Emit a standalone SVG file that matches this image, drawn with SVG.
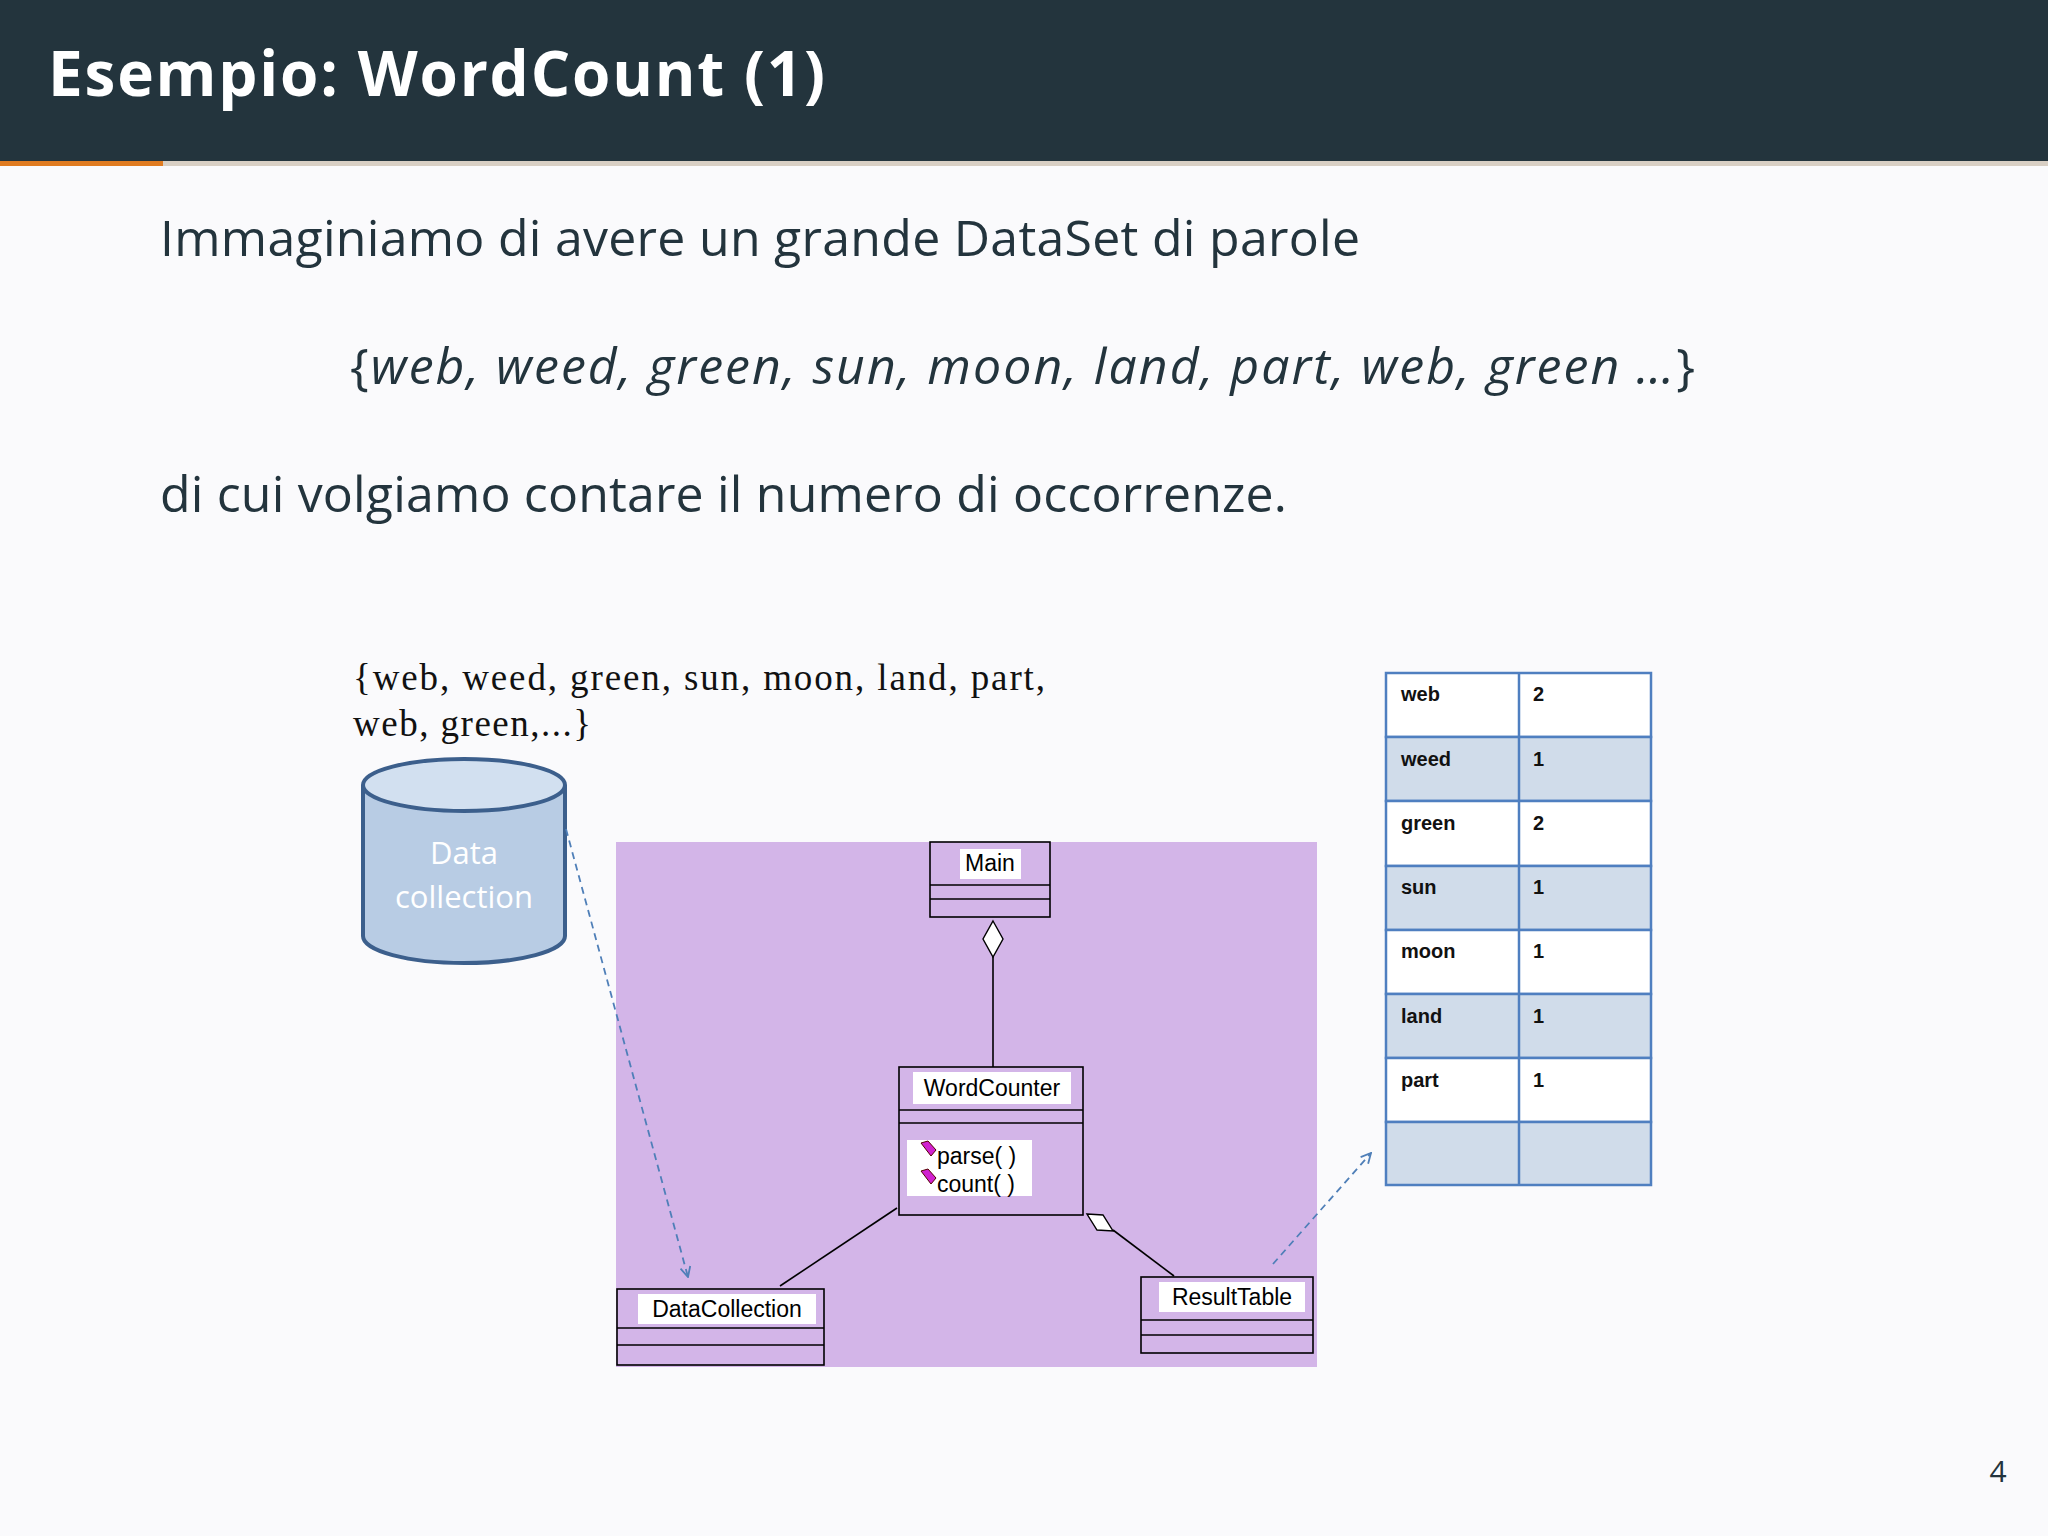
<svg xmlns="http://www.w3.org/2000/svg" width="2048" height="1536" viewBox="0 0 2048 1536">
<defs>
<style>
.sans{font-family:"Open Sans","DejaVu Sans",sans-serif;fill:#23343d}
.uml{fill:none;stroke:#000;stroke-width:1.6}
.ul{font-family:"Liberation Sans",Arial,sans-serif;font-size:23px;fill:#000}
.lbl{fill:#fff}
.cell{font-family:"Liberation Sans",Arial,sans-serif;font-size:20px;font-weight:bold;fill:#111}
.dash{fill:none;stroke:#4f7fb8;stroke-width:1.8;stroke-dasharray:7 5}
</style>
<marker id="open" viewBox="0 0 12 12" refX="11" refY="6" markerWidth="12" markerHeight="12" orient="auto" markerUnits="userSpaceOnUse"><path d="M1,1 L11,6 L1,11" fill="none" stroke="#4f7fb8" stroke-width="1.8"/></marker>
</defs>
<rect width="2048" height="1536" fill="#fafafc"/>
<rect width="2048" height="161" fill="#23343d"/>
<rect y="161" width="2048" height="5" fill="#d8cfc4"/>
<rect y="161" width="163" height="5" fill="#e07b20"/>
<text x="48" y="96" font-family="Open Sans,DejaVu Sans,sans-serif" font-size="62" font-weight="bold" fill="#fff" textLength="777" lengthAdjust="spacing">Esempio:  WordCount (1)</text>
<text class="sans" x="160" y="256" font-size="50" textLength="1200" lengthAdjust="spacing">Immaginiamo di avere un grande DataSet di parole</text>
<text class="sans" x="350" y="384" font-size="50" textLength="1345" lengthAdjust="spacing"><tspan>{</tspan><tspan font-style="italic">web, weed, green, sun, moon, land, part, web, green …</tspan><tspan>}</tspan></text>
<text class="sans" x="160" y="512" font-size="50" textLength="1127" lengthAdjust="spacing">di cui volgiamo contare il numero di occorrenze.</text>
<text x="353" y="690" font-family="Liberation Serif,Times New Roman,serif" font-size="37" fill="#111" textLength="692" lengthAdjust="spacing">{web, weed, green, sun, moon, land, part,</text>
<text x="353" y="736" font-family="Liberation Serif,Times New Roman,serif" font-size="37" fill="#111" textLength="238" lengthAdjust="spacing">web, green,...}</text>
<g id="cylinder">
<path d="M363,785 L363,936 A101,27 0 0 0 565,936 L565,785" fill="#b8cce4" stroke="#3c5f8c" stroke-width="4"/>
<ellipse cx="464" cy="785" rx="101" ry="26" fill="#d2e0f0" stroke="#3c5f8c" stroke-width="4"/>
<text x="464" y="864" text-anchor="middle" font-family="Open Sans,sans-serif" font-size="31" fill="#fff">Data</text>
<text x="464" y="908" text-anchor="middle" font-family="Open Sans,sans-serif" font-size="31" fill="#fff">collection</text>
</g>
<rect id="panel" x="616" y="842" width="701" height="525" fill="#d3b5e8"/>
<g id="connectors">
<line class="uml" x1="993" y1="957" x2="993" y2="1067"/>
<path d="M993,921 L1003,939 L993,957 L983,939 Z" fill="#fff" stroke="#000" stroke-width="1.4"/>
<line class="uml" x1="897" y1="1208" x2="780" y2="1286"/>
<line class="uml" x1="1113" y1="1230" x2="1174" y2="1276"/>
<path d="M1087,1214 L1103,1215 L1113,1231 L1097,1230 Z" fill="#fff" stroke="#000" stroke-width="1.4"/>
<path class="dash" d="M566,829 L688,1277" marker-end="url(#open)"/>
<path class="dash" d="M1273,1264 L1371,1153" marker-end="url(#open)"/>
</g>
<g id="main">
<rect class="uml" x="930" y="842" width="120" height="75"/>
<line class="uml" x1="930" y1="885" x2="1050" y2="885"/><line class="uml" x1="930" y1="899" x2="1050" y2="899"/>
<rect class="lbl" x="960" y="849" width="61" height="30"/>
<text class="ul" x="990" y="871" text-anchor="middle">Main</text>
</g>
<g id="wordcounter">
<rect class="uml" x="899" y="1067" width="184" height="148" stroke-width="2.2"/>
<line class="uml" x1="899" y1="1110" x2="1083" y2="1110"/><line class="uml" x1="899" y1="1123" x2="1083" y2="1123"/>
<rect class="lbl" x="913" y="1072" width="158" height="32"/>
<text class="ul" x="992" y="1096" text-anchor="middle">WordCounter</text>
<rect class="lbl" x="907" y="1140" width="125" height="56"/>
<path d="M921,1143 l7,-2 l8,9 l-5,6 Z" fill="#d020d0" stroke="#500" stroke-width="1"/>
<path d="M921,1171 l7,-2 l8,9 l-5,6 Z" fill="#d020d0" stroke="#500" stroke-width="1"/>
<text class="ul" x="937" y="1164">parse( )</text>
<text class="ul" x="937" y="1192">count( )</text>
</g>
<g id="datacollection">
<rect class="uml" x="617" y="1289" width="207" height="76" stroke-width="2"/>
<line class="uml" x1="617" y1="1328" x2="824" y2="1328"/><line class="uml" x1="617" y1="1345" x2="824" y2="1345"/>
<rect class="lbl" x="638" y="1294" width="178" height="30"/>
<text class="ul" x="727" y="1317" text-anchor="middle">DataCollection</text>
</g>
<g id="resulttable">
<rect class="uml" x="1141" y="1277" width="172" height="76" stroke-width="2"/>
<line class="uml" x1="1141" y1="1320" x2="1313" y2="1320"/><line class="uml" x1="1141" y1="1335" x2="1313" y2="1335"/>
<rect class="lbl" x="1159" y="1282" width="146" height="30"/>
<text class="ul" x="1232" y="1305" text-anchor="middle">ResultTable</text>
</g>
<g id="table" stroke="#4f7fc0" stroke-width="2.5">
<rect x="1386" y="673" width="265" height="64" fill="#fff"/>
<rect x="1386" y="737" width="265" height="64" fill="#d0dcea"/>
<rect x="1386" y="801" width="265" height="65" fill="#fff"/>
<rect x="1386" y="866" width="265" height="64" fill="#d0dcea"/>
<rect x="1386" y="930" width="265" height="64" fill="#fff"/>
<rect x="1386" y="994" width="265" height="64" fill="#d0dcea"/>
<rect x="1386" y="1058" width="265" height="64" fill="#fff"/>
<rect x="1386" y="1122" width="265" height="63" fill="#d0dcea"/>
<line x1="1519" y1="673" x2="1519" y2="1185"/>
<g stroke="none">
<text class="cell" x="1401" y="701">web</text><text class="cell" x="1533" y="701">2</text>
<text class="cell" x="1401" y="766">weed</text><text class="cell" x="1533" y="766">1</text>
<text class="cell" x="1401" y="830">green</text><text class="cell" x="1533" y="830">2</text>
<text class="cell" x="1401" y="894">sun</text><text class="cell" x="1533" y="894">1</text>
<text class="cell" x="1401" y="958">moon</text><text class="cell" x="1533" y="958">1</text>
<text class="cell" x="1401" y="1023">land</text><text class="cell" x="1533" y="1023">1</text>
<text class="cell" x="1401" y="1087">part</text><text class="cell" x="1533" y="1087">1</text>
</g>
</g>
<text class="sans" x="1998" y="1482" font-size="30" text-anchor="middle">4</text>
</svg>
